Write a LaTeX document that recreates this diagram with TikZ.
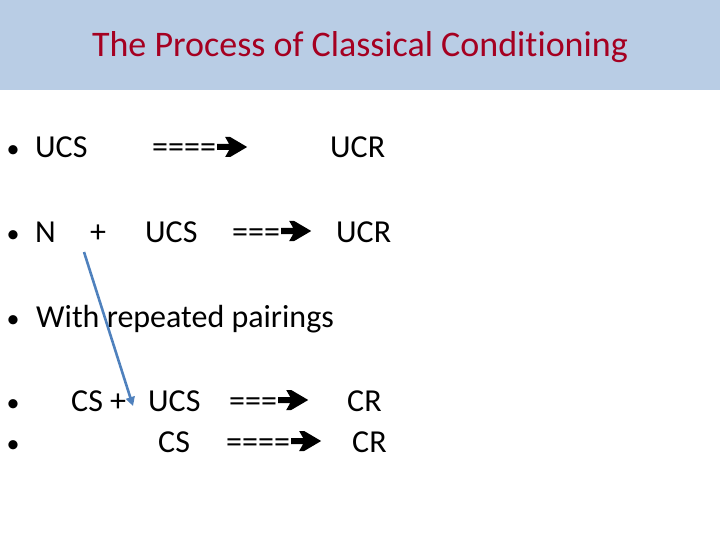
\documentclass[tikz,border=0pt]{standalone}
\usepackage{fontspec}
\setmainfont[Ligatures=NoCommon]{Carlito}
\usepackage{xcolor}
\usetikzlibrary{arrows.meta}
\definecolor{bandblue}{HTML}{B9CDE5}
\definecolor{titlered}{HTML}{A50021}
\definecolor{linkblue}{HTML}{4F81BD}

\begin{document}
\begin{tikzpicture}[x=1pt,y=-1pt,
    txt/.style={anchor=base west, inner sep=0pt, font=\fontsize{32}{36}\selectfont},
    dot/.style={anchor=base, inner sep=0pt, font=\fontsize{26}{30}\selectfont},
    fatarrow/.pic={\fill (1,-14) -- (13,-14) -- (9,-21) -- (14,-21) -- (31,-11) -- (14,-1) -- (9,-1) -- (13,-8) -- (1,-8) -- cycle;}]
    \useasboundingbox (0,0) rectangle (720,540);
    % Title bar
    \fill[bandblue] (0,0) rectangle (720,90);
    \node[anchor=base, inner sep=0pt, text=titlered, font=\fontsize{36}{40}\selectfont] (title) at (360,57) {The Process of Classical Conditioning};

    % Bullets
    \foreach \y/\n in {158/b1, 242/b2, 327/b3, 411/b4, 452/b5}
        \node[dot] (\n) at (13,\y) {•};

    % First line
    \node[txt] (ucs1) at (35,158) {UCS};
    \node[txt] (arr1) at (152,158) {====};
    \pic at (arr1.base east) {fatarrow};
    \node[txt] (ucr1) at (330,158) {UCR};

    % Second line
    \node[txt] (n2) at (35,242) {N};
    \node[txt] (plus2) at (90,242) {+};
    \node[txt] (ucs2) at (145,242) {UCS};
    \node[txt] (arr2) at (232,242) {===};
    \pic at (arr2.base east) {fatarrow};
    \node[txt] (ucr2) at (336,242) {UCR};

    % Third line
    \node[txt] (pair3) at (36,327) {With repeated pairings};

    % Fourth line
    \node[txt] (cs4) at (71,411) {CS +};
    \node[txt] (ucs4) at (148,411) {UCS};
    \node[txt] (arr4) at (229,411) {===};
    \pic at (arr4.base east) {fatarrow};
    \node[txt] (cr4) at (347,411) {CR};

    % Fifth line
    \node[txt] (cs5) at (158,452) {CS};
    \node[txt] (arr5) at (226,452) {====};
    \pic at (arr5.base east) {fatarrow};
    \node[txt] (cr5) at (352,452) {CR};

    % Pointer
    \coordinate (tail) at (84,252);
    \coordinate (head) at (133,406);
    \draw[linkblue, line width=2.6pt, -{Triangle[length=9pt,width=9pt]}] (tail) -- (head);
\end{tikzpicture}
\end{document}
